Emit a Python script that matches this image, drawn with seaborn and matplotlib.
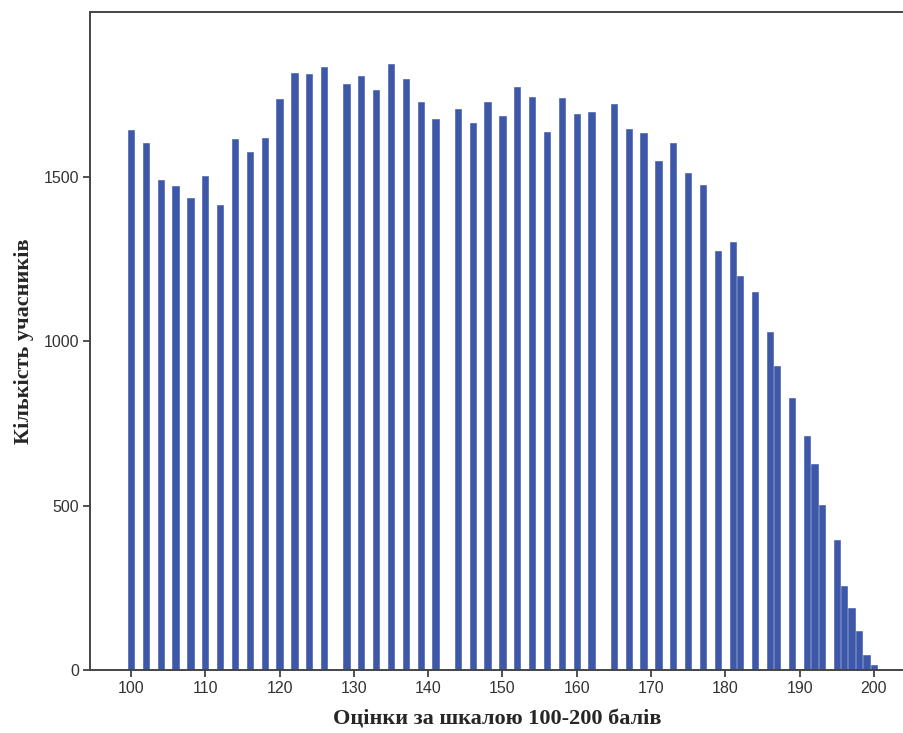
import matplotlib
matplotlib.use("Agg")
import matplotlib.pyplot as plt
import seaborn as sns

# Бали (шкала 100-200) та кількість учасників
scores = [100, 102, 104, 106, 108, 110, 112, 114, 116, 118, 120, 122, 124, 126,
          129, 131, 133, 135, 137, 139, 141, 144, 146, 148, 150, 152, 154, 156,
          158, 160, 162, 165, 167, 169, 171, 173, 175, 177, 179, 181, 182, 184,
          186, 187, 189, 191, 192, 193, 195, 196, 197, 198, 199, 200]
counts = [1643, 1604, 1491, 1474, 1436, 1504, 1414, 1616, 1576, 1618, 1737, 1817,
          1812, 1835, 1784, 1808, 1765, 1843, 1797, 1729, 1678, 1708, 1664, 1727,
          1686, 1774, 1743, 1637, 1741, 1693, 1698, 1722, 1645, 1635, 1549, 1604,
          1513, 1475, 1276, 1303, 1198, 1150, 1029, 926, 828, 711, 626, 501,
          396, 256, 188, 119, 46, 14]
xticks = [100, 110, 120, 130, 140, 150, 160, 170, 180, 190, 200]
yticks = [0, 500, 1000, 1500]

sns.set_style("white")
plt.rcParams["font.family"] = ["Liberation Sans", "DejaVu Sans"]

fig = plt.figure(figsize=(9.04, 7.33), dpi=100)
ax = fig.add_axes([0.0996, 0.086, 0.9004, 0.8976])

sns.barplot(x=scores, y=counts, native_scale=True, width=0.85,
            color="#3d57a9", saturation=1, edgecolor="#3d57a9",
            linewidth=0.4, ax=ax)

ax.set_xlim(94.48, 204.05)
ax.set_ylim(0, 2002)
ax.set_xticks(xticks)
ax.set_yticks(yticks)
ax.tick_params(axis="both", direction="out", length=5, width=1.2,
               color="#333333", labelcolor="#333333", labelsize=11.5,
               bottom=True, left=True, pad=3)

for side in ["left", "top", "bottom"]:
    ax.spines[side].set_color("#444444")
    ax.spines[side].set_linewidth(1.4)
ax.spines["right"].set_visible(False)

serif = ["Liberation Serif", "DejaVu Serif"]
ax.set_xlabel("Оцінки за шкалою 100-200 балів", family=serif,
              fontweight="bold", fontsize=16, labelpad=10)
ax.set_ylabel("Кількість учасників", family=serif,
              fontweight="bold", fontsize=16, labelpad=7)

fig.savefig("out.png", dpi=100)
